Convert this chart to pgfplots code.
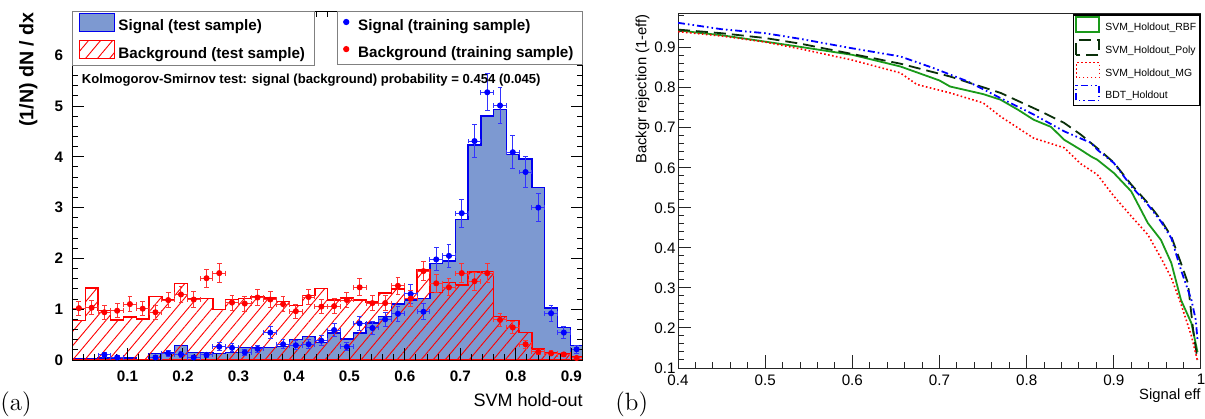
\documentclass[border=0pt]{standalone}
\usepackage{fontspec}
\newfontfamily\arial{Liberation Sans}
\usepackage{pgfplots}
\pgfplotsset{compat=1.18}
\usetikzlibrary{patterns.meta}
\definecolor{sigfill}{HTML}{7D99D1}
\definecolor{sigline}{HTML}{0000EE}
\definecolor{rbfgreen}{HTML}{1A9A1A}
\definecolor{polydark}{HTML}{0A300A}

\newcommand{\legbold}{\arial\bfseries\fontsize{7.6}{9}\selectfont}
\pgfplotsset{
  histlegend/.style={legend image code/.code={\draw[##1] (0pt,-2.2pt) rectangle (17.5pt,6.8pt);}},
  marklegend/.style={legend image code/.code={\path (0pt,-2.2pt) (5.5pt,6.8pt); \fill[##1] (1.3pt,2.3pt) circle (1.3pt);}},
  roclegend/.style={legend image code/.code={\draw[##1] (0pt,-1.9pt) rectangle (11.5pt,5.6pt);}},
}

\begin{document}
\begin{tikzpicture}
\useasboundingbox (0,0) rectangle (602.5pt,209pt);

% (a) output distributions
\begin{axis}[
  at={(36.25pt,29pt)}, anchor=south west, scale only axis,
  width=255.25pt, height=174.5pt,
  xmin=0.001, xmax=0.921, ymin=0, ymax=6.87,
  axis on top, tick align=inside,
  axis line style={line width=0.5pt},
  every tick/.style={black, line width=0.5pt},
  major tick length=6pt, minor tick length=3pt,
  xtick={0.1,0.2,...,0.9}, ytick={0,1,...,6},
  minor xtick={0.02,0.04,...,0.92}, minor ytick={0.2,0.4,...,6.8},
  /pgf/number format/assume math mode=true,
  tick label style={font=\legbold},
  xticklabel style={inner sep=0pt, yshift=-5pt},
  yticklabel style={inner sep=0pt, xshift=-4.5pt},
  xlabel={SVM hold-out},
  every axis x label/.style={at={(rel axis cs:1,0)}, anchor=base east, yshift=-23pt, inner sep=0pt,
    font=\arial\fontsize{9}{10}\selectfont},
  ylabel={(1/N) dN / dx},
  every axis y label/.style={at={([xshift=-19.6pt,yshift=-0.5pt]rel axis cs:0,1)}, rotate=90, anchor=base east,
    inner sep=0pt, font=\arial\bfseries\fontsize{9.8}{11}\selectfont},
  legend style={at={(0,1)}, anchor=north west, draw=gray, line width=0.5pt, fill=white,
    inner xsep=3pt, inner ysep=0.5pt, row sep=1.5pt, font=\legbold,
    nodes={inner sep=1.5pt}},
  legend cell align=left,
]
\addplot[const plot mark left, fill=sigfill, draw=sigline, line width=0.7pt, histlegend]
  coordinates {(0.001,0.03) (0.024,0.03) (0.047,0.04) (0.070,0.04) (0.093,0.04) (0.116,0) (0.139,0.13)
  (0.162,0.15) (0.185,0.29) (0.208,0.15) (0.231,0.15) (0.254,0.13) (0.277,0.15) (0.300,0.25) (0.323,0.25)
  (0.346,0.25) (0.369,0.26) (0.392,0.40) (0.415,0.46) (0.438,0.34) (0.461,0.53) (0.484,0.41) (0.507,0.53)
  (0.530,0.73) (0.553,0.86) (0.576,1.10) (0.599,1.18) (0.622,1.21) (0.645,1.90) (0.668,1.95) (0.691,2.77)
  (0.714,4.23) (0.737,4.80) (0.760,4.93) (0.783,4.05) (0.806,3.96) (0.829,3.39) (0.852,1.02) (0.875,0.64)
  (0.898,0.29) (0.921,0.29)} \closedcycle;
\addlegendentry{Signal (test sample)}
\addplot[const plot mark left, pattern={Lines[angle=50,distance=4.6pt,line width=0.45pt]}, pattern color=red,
  draw=red, line width=0.7pt, histlegend]
  coordinates {(0.001,0.78) (0.024,1.42) (0.047,0.97) (0.070,0.79) (0.093,0.85) (0.116,0.81) (0.139,1.25)
  (0.162,1.19) (0.185,1.51) (0.208,1.21) (0.231,1.21) (0.254,1.00) (0.277,1.19) (0.300,1.21) (0.323,1.24)
  (0.346,1.22) (0.369,1.15) (0.392,1.07) (0.415,1.27) (0.438,1.41) (0.461,1.18) (0.484,1.22) (0.507,1.18)
  (0.530,1.14) (0.553,1.32) (0.576,1.40) (0.599,1.31) (0.622,1.77) (0.645,1.33) (0.668,1.52) (0.691,1.48)
  (0.714,1.73) (0.737,1.74) (0.760,0.86) (0.783,0.78) (0.806,0.54) (0.829,0.22) (0.852,0.14) (0.875,0.12)
  (0.898,0.07) (0.921,0.07)} \closedcycle;
\addlegendentry{Background (test sample)}
% training samples
\addplot[forget plot, only marks, mark=*, mark size=1.3pt, color=blue,
  error bars/.cd, x dir=both, x explicit, y dir=both, y explicit,
  error bar style={line width=0.5pt, blue!80},
  error mark options={rotate=90, mark size=1.2pt, line width=0.5pt, blue!80}]
  coordinates {
  (0.0585,0.10) +- (0.0115,0.050) (0.0815,0.05) +- (0.0115,0.036) (0.1505,0.05) +- (0.0115,0.036)
  (0.1735,0.13) +- (0.0115,0.058) (0.1965,0.11) +- (0.0115,0.053) (0.2195,0.05) +- (0.0115,0.036)
  (0.2425,0.10) +- (0.0115,0.050) (0.2655,0.26) +- (0.0115,0.082) (0.2885,0.24) +- (0.0115,0.078)
  (0.3115,0.15) +- (0.0115,0.062) (0.3345,0.22) +- (0.0115,0.075) (0.3575,0.54) +- (0.0115,0.118)
  (0.3805,0.31) +- (0.0115,0.089) (0.4035,0.29) +- (0.0115,0.086) (0.4265,0.31) +- (0.0115,0.089)
  (0.4495,0.38) +- (0.0115,0.099) (0.4725,0.59) +- (0.0115,0.123) (0.4955,0.26) +- (0.0115,0.082)
  (0.5185,0.72) +- (0.0115,0.136) (0.5415,0.63) +- (0.0115,0.127) (0.5645,0.80) +- (0.0115,0.143)
  (0.5875,0.91) +- (0.0115,0.153) (0.6105,1.30) +- (0.0115,0.182) (0.6335,0.95) +- (0.0115,0.156)
  (0.6565,1.98) +- (0.0115,0.225) (0.6795,2.05) +- (0.0115,0.229) (0.7025,2.89) +- (0.0115,0.272)
  (0.7255,4.31) +- (0.0115,0.332) (0.7485,5.27) +- (0.0115,0.367) (0.7715,5.01) +- (0.0115,0.358)
  (0.7945,4.09) +- (0.0115,0.324) (0.8175,3.70) +- (0.0115,0.308) (0.8405,3.00) +- (0.0115,0.277)
  (0.8635,0.92) +- (0.0115,0.153) (0.8865,0.54) +- (0.0115,0.118) (0.9095,0.21) +- (0.0115,0.073)};
\addplot[forget plot, only marks, mark=*, mark size=1.3pt, color=red,
  error bars/.cd, x dir=both, x explicit, y dir=both, y explicit,
  error bar style={line width=0.5pt, red!80},
  error mark options={rotate=90, mark size=1.2pt, line width=0.5pt, red!80}]
  coordinates {
  (0.0125,1.02) +- (0.0115,0.141) (0.0355,1.03) +- (0.0115,0.142) (0.0585,0.94) +- (0.0115,0.136)
  (0.0815,0.97) +- (0.0115,0.138) (0.1045,1.10) +- (0.0115,0.147) (0.1275,1.01) +- (0.0115,0.141)
  (0.1505,0.94) +- (0.0115,0.136) (0.1735,1.18) +- (0.0115,0.152) (0.1965,1.29) +- (0.0115,0.159)
  (0.2195,1.19) +- (0.0115,0.153) (0.2425,1.61) +- (0.0115,0.178) (0.2655,1.71) +- (0.0115,0.183)
  (0.2885,1.13) +- (0.0115,0.149) (0.3115,1.11) +- (0.0115,0.148) (0.3345,1.23) +- (0.0115,0.155)
  (0.3575,1.19) +- (0.0115,0.153) (0.3805,1.10) +- (0.0115,0.147) (0.4035,0.96) +- (0.0115,0.137)
  (0.4265,1.24) +- (0.0115,0.156) (0.4495,1.05) +- (0.0115,0.143) (0.4725,1.06) +- (0.0115,0.144)
  (0.4955,1.18) +- (0.0115,0.152) (0.5185,1.43) +- (0.0115,0.167) (0.5415,1.12) +- (0.0115,0.148)
  (0.5645,1.12) +- (0.0115,0.148) (0.5875,1.46) +- (0.0115,0.169) (0.6105,1.21) +- (0.0115,0.154)
  (0.6335,1.75) +- (0.0115,0.185) (0.6565,1.51) +- (0.0115,0.172) (0.6795,1.43) +- (0.0115,0.167)
  (0.7025,1.71) +- (0.0115,0.183) (0.7255,1.55) +- (0.0115,0.174) (0.7485,1.71) +- (0.0115,0.183)
  (0.7715,0.79) +- (0.0115,0.124) (0.7945,0.64) +- (0.0115,0.112) (0.8175,0.31) +- (0.0115,0.078)
  (0.8405,0.16) +- (0.0115,0.056) (0.8635,0.13) +- (0.0115,0.050) (0.8865,0.11) +- (0.0115,0.046)
  (0.9095,0.04) +- (0.0115,0.028)};
\node[anchor=west, inner sep=0pt, font=\arial\bfseries\fontsize{6.55}{7}\selectfont]
  at ([xshift=4.5pt,yshift=-34.5pt]rel axis cs:0,1)
  {Kolmogorov-Smirnov test: signal (background) probability = 0.454 (0.045)};
\node[rotate=90, anchor=west, inner sep=0pt, font=\arial\bfseries\fontsize{6}{7}\selectfont]
  at ([xshift=7.5pt,yshift=-1pt]rel axis cs:1,0)
  {U/O-flow (S,B): (0.0, 0.0)\% / (0.0, 0.0)\%};
\end{axis}

% legend of the training samples
\begin{axis}[
  at={(36.25pt,29pt)}, anchor=south west, scale only axis,
  width=255.25pt, height=174.5pt, hide axis,
  xmin=0, xmax=1, ymin=0, ymax=1,
  legend style={at={(1,1)}, anchor=north east, draw=gray, line width=0.5pt, fill=white,
    inner xsep=3pt, inner ysep=0.5pt, row sep=1.5pt, font=\legbold,
    nodes={inner sep=1.5pt}},
  legend cell align=left, marklegend,
]
\addlegendimage{blue}
\addlegendentry{Signal (training sample)}
\addlegendimage{red}
\addlegendentry{Background (training sample)}
\end{axis}

% (b) ROC curves
\begin{axis}[
  at={(339pt,25pt)}, anchor=south west, scale only axis,
  width=261.5pt, height=177pt,
  xmin=0.4, xmax=1, ymin=0.1, ymax=0.984,
  tick align=inside, xtick pos=bottom, ytick pos=left,
  axis line style={line width=0.5pt, black!85},
  every tick/.style={black!85, line width=0.5pt},
  major tick length=6.5pt, minor tick length=3.2pt,
  xtick={0.4,0.5,...,1.0}, ytick={0.1,0.2,...,0.9},
  minor xtick={0.42,0.44,...,0.98}, minor ytick={0.12,0.14,...,0.98},
  /pgf/number format/assume math mode=true,
  tick label style={font=\arial\fontsize{7.6}{9}\selectfont},
  xticklabel style={inner sep=0pt, yshift=-3pt},
  yticklabel style={inner sep=0pt, xshift=-1pt},
  xlabel={Signal eff},
  every axis x label/.style={at={(rel axis cs:1,0)}, anchor=base east, yshift=-15.5pt, inner sep=0pt,
    font=\arial\fontsize{7.4}{9}\selectfont},
  ylabel={Backgr rejection (1-eff)},
  every axis y label/.style={at={([xshift=-15.8pt]rel axis cs:0,1)}, rotate=90, anchor=base east,
    inner sep=0pt, font=\arial\fontsize{7.4}{9}\selectfont},
  legend style={at={(1,1)}, anchor=north east, draw=black, line width=0.8pt, fill=white,
    inner xsep=1pt, inner ysep=0.75pt, row sep=1.7pt,
    font=\arial\fontsize{5.2}{6}\selectfont, nodes={inner sep=1pt},
    /tikz/every odd column/.append style={column sep=1.6pt}},
  legend cell align=left, roclegend,
]
\addplot[rbfgreen, line width=0.9pt] coordinates {
  (0.40,0.944) (0.42,0.938) (0.45,0.931) (0.50,0.915) (0.54,0.902) (0.60,0.882) (0.655,0.853)
  (0.70,0.818) (0.712,0.803) (0.75,0.784) (0.77,0.770) (0.79,0.745) (0.808,0.720) (0.828,0.702)
  (0.843,0.670) (0.862,0.645) (0.874,0.628) (0.881,0.620) (0.90,0.587) (0.92,0.541) (0.939,0.462)
  (0.954,0.420) (0.966,0.362) (0.977,0.270) (0.989,0.212) (0.996,0.140)};
\addlegendentry{SVM\_Holdout\_RBF}
\addplot[polydark, line width=0.9pt, dash pattern=on 6pt off 3pt] coordinates {
  (0.40,0.945) (0.45,0.936) (0.50,0.924) (0.54,0.910) (0.598,0.885) (0.655,0.860) (0.712,0.828)
  (0.77,0.787) (0.816,0.741) (0.843,0.712) (0.862,0.683) (0.881,0.649) (0.90,0.613) (0.92,0.558)
  (0.939,0.512) (0.954,0.470) (0.966,0.428) (0.977,0.362) (0.985,0.312) (0.991,0.195) (0.996,0.120)};
\addlegendentry{SVM\_Holdout\_Poly}
\addplot[red, line width=0.8pt, dash pattern=on 0.8pt off 1.2pt] coordinates {
  (0.40,0.940) (0.45,0.929) (0.50,0.914) (0.54,0.897) (0.598,0.870) (0.655,0.837) (0.674,0.808)
  (0.712,0.787) (0.75,0.762) (0.77,0.728) (0.808,0.674) (0.843,0.650) (0.862,0.610) (0.881,0.583)
  (0.90,0.529) (0.92,0.479) (0.939,0.433) (0.954,0.375) (0.966,0.325) (0.977,0.260) (0.989,0.180)
  (0.996,0.118)};
\addlegendentry{SVM\_Holdout\_MG}
\addplot[blue, line width=0.9pt, dash pattern=on 3.5pt off 1.5pt on 0.8pt off 1.5pt on 0.8pt off 1.5pt] coordinates {
  (0.40,0.962) (0.45,0.946) (0.50,0.936) (0.54,0.922) (0.598,0.899) (0.655,0.878) (0.693,0.849)
  (0.732,0.816) (0.77,0.774) (0.808,0.733) (0.843,0.691) (0.874,0.662) (0.881,0.645) (0.90,0.612)
  (0.92,0.554) (0.939,0.508) (0.954,0.466) (0.966,0.424) (0.977,0.345) (0.989,0.270) (0.994,0.220)
  (0.996,0.170)};
\addlegendentry{BDT\_Holdout}
\end{axis}

\node[anchor=base west, inner sep=0pt, font=\fontsize{12.5}{14}\selectfont] at (0pt,4pt) {(a)};
\node[anchor=base west, inner sep=0pt, font=\fontsize{12.5}{14}\selectfont] at (307.5pt,4pt) {(b)};
\end{tikzpicture}
\end{document}
